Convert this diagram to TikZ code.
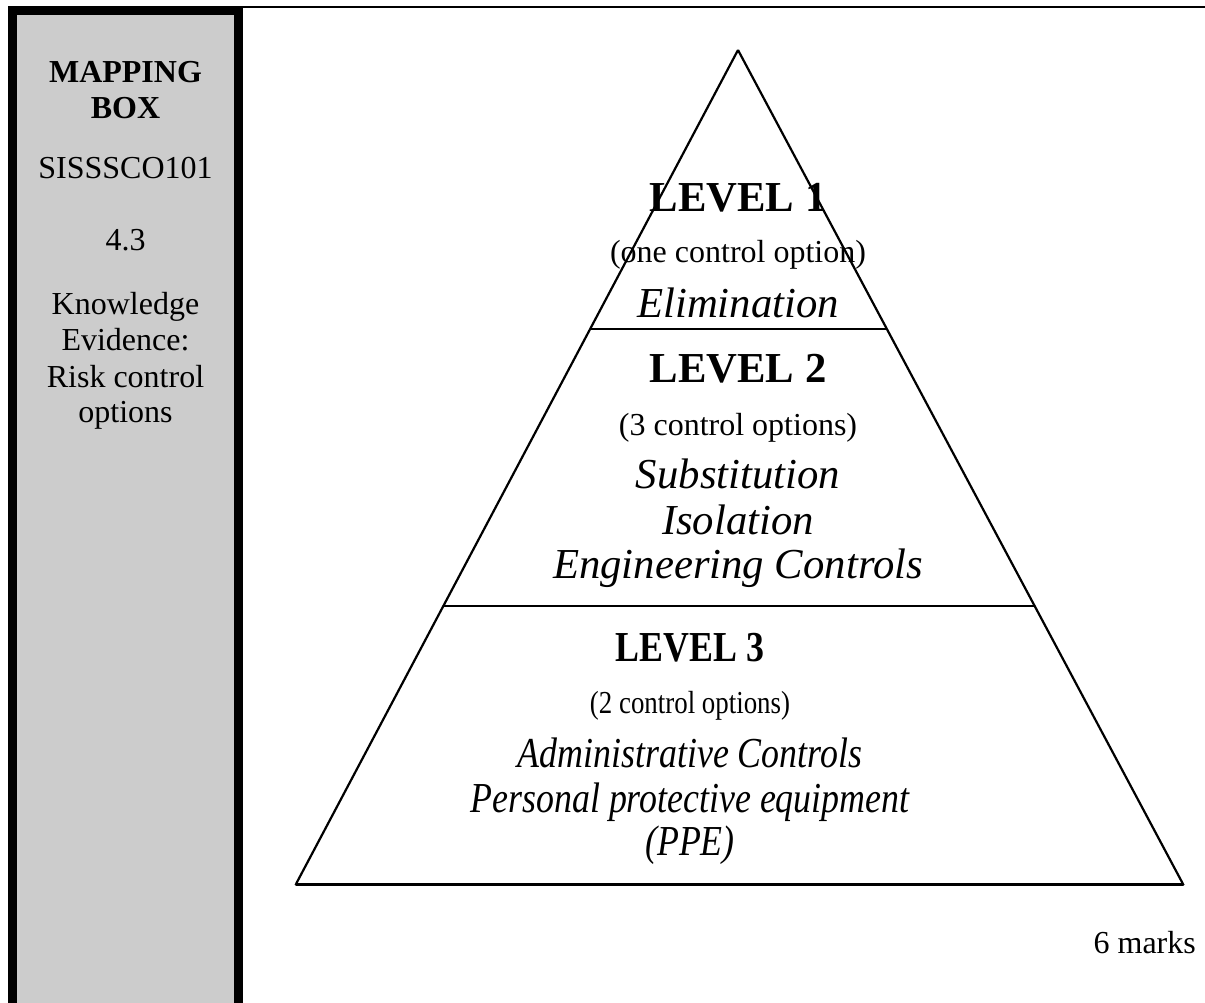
\documentclass[tikz,border=0pt]{standalone}
\usepackage{fontspec}
\usepackage{graphicx}
\setmainfont{Liberation Serif}
\usetikzlibrary{calc}
\definecolor{panelgrey}{HTML}{CCCCCC}
\tikzset{
  small/.style={anchor=base,inner sep=0pt,font=\fontsize{32}{36}\selectfont},
  smallbold/.style={anchor=base,inner sep=0pt,font=\fontsize{32}{36}\selectfont\bfseries},
  big/.style={anchor=base,inner sep=0pt,font=\fontsize{42.7}{45}\selectfont\itshape},
  bigbold/.style={anchor=base,inner sep=0pt,font=\fontsize{42.7}{45}\selectfont\bfseries},
  pyr/.style={line width=2.2pt,line join=miter}
}
\begin{document}
\begin{tikzpicture}[x=1pt,y=-1pt]
\useasboundingbox (0,0) rectangle (1205,1002);
% left mapping box
\path[fill=panelgrey] (12.5,10.5) rectangle (238.5,1010);
\draw[line width=9pt] (12.5,1010) -- (12.5,10.5) -- (238.5,10.5) -- (238.5,1010);
\draw[line width=2.3pt] (243,7) -- (1205,7);
\node[smallbold] (map) at (125.5,82) {MAPPING};
\node[smallbold] (box) at (125.5,118) {BOX};
\node[small] (code) at (125.5,178) {SISSSCO101};
\node[small] (num) at (125.5,250) {4.3};
\node[small] (ke1) at (125.5,314) {Knowledge};
\node[small] (ke2) at (125.5,350) {Evidence:};
\node[small] (ke3) at (125.5,387) {Risk control};
\node[small] (ke4) at (125.5,422) {options};
% pyramid
\coordinate (A) at (738,50);
\coordinate (BL) at (296,884);
\coordinate (BR) at (1183,884);
\coordinate (L1) at ($(A)!0.3345!(BL)$);
\coordinate (R1) at ($(A)!0.3345!(BR)$);
\coordinate (L2) at ($(A)!0.6667!(BL)$);
\coordinate (R2) at ($(A)!0.6667!(BR)$);
\draw[pyr] (A) -- (BL);
\draw[pyr] (A) -- (BR);
\draw[pyr] (L1) -- (R1);
\draw[pyr] (L2) -- (R2);
\draw[line width=3pt,line cap=round] (BL) -- (BR);
% level 1
\node[bigbold] (lv1) at (738,211) {LEVEL 1};
\node[small] (lv1o) at (738,262) {(one control option)};
\node[big] (lv1a) at (738,317) {Elimination};
% level 2
\node[bigbold] (lv2) at (738,382) {LEVEL 2};
\node[small] (lv2o) at (738,435) {(3 control options)};
\node[big] (lv2a) at (738,488) {Substitution};
\node[big] (lv2b) at (738,534) {Isolation};
\node[big] (lv2c) at (738,578) {Engineering Controls};
% level 3
\node[bigbold] (lv3) at (690,661) {\scalebox{0.84}[1]{LEVEL 3}};
\node[small] (lv3o) at (690,713) {\scalebox{0.84}[1]{(2 control options)}};
\node[big] (lv3a) at (690,767) {\scalebox{0.84}[1]{Administrative Controls}};
\node[big] (lv3b) at (690,812) {\scalebox{0.84}[1]{Personal protective equipment}};
\node[big] (lv3c) at (690,855) {\scalebox{0.84}[1]{(PPE)}};
% marks
\node[small,anchor=base east] (marks) at (1196,953) {6 marks};
\end{tikzpicture}
\end{document}
